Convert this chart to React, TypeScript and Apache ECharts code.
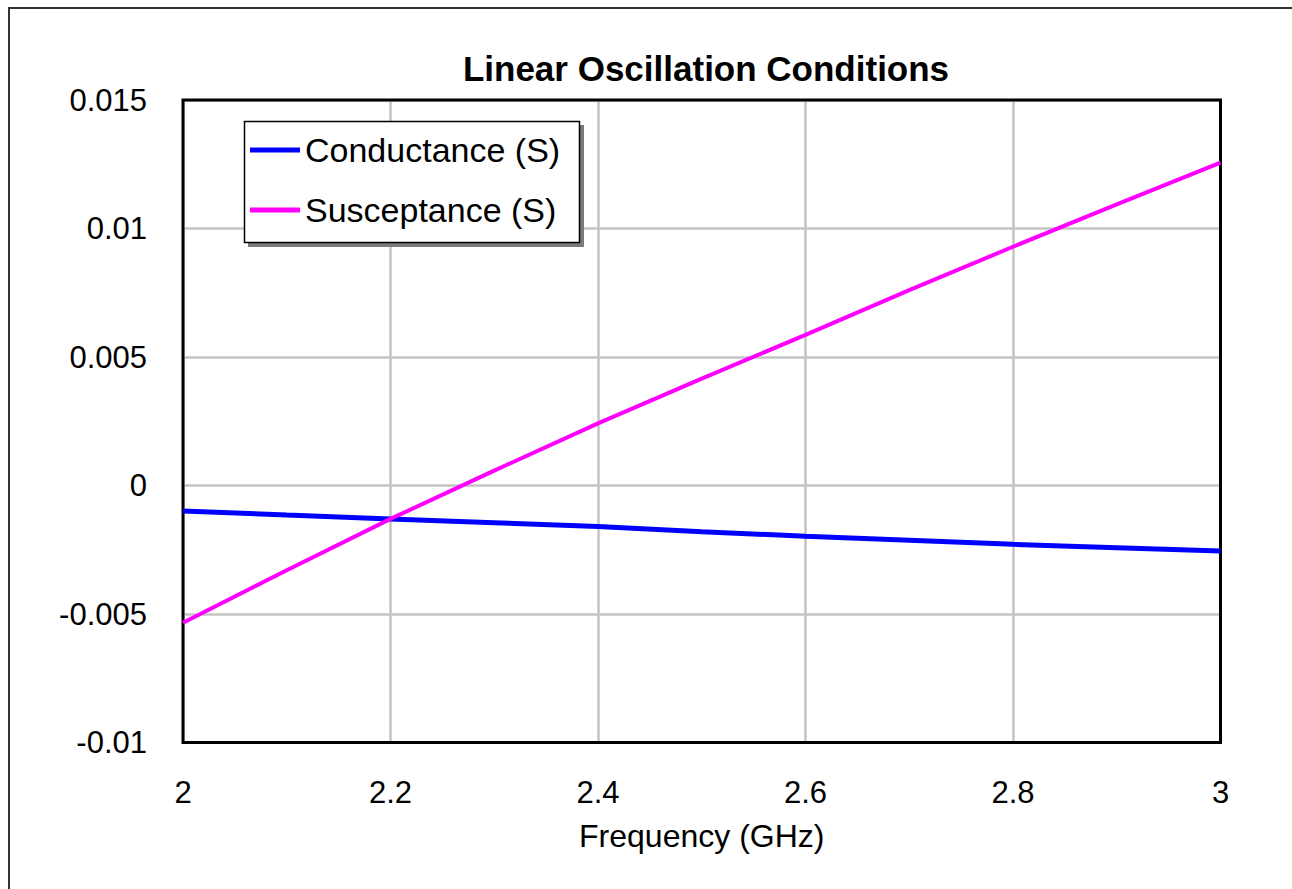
import React, { useEffect, useRef } from "react";
import * as echarts from "echarts";

const frequencies = [2.0, 2.1, 2.2, 2.3, 2.4, 2.5, 2.6, 2.7, 2.8, 2.9, 3.0];
const conductance = [-0.00099, -0.00115, -0.0013, -0.00145, -0.0016, -0.0018, -0.00197, -0.00213, -0.00229, -0.00242, -0.00255];
const susceptance = [-0.00534, -0.0033, -0.0013, 0.00058, 0.00242, 0.00416, 0.00586, 0.0076, 0.00929, 0.01094, 0.01256];
const seriesNames = ["Conductance (S)", "Susceptance (S)"];
const titleText = "Linear Oscillation Conditions";
const xAxisName = "Frequency (GHz)";

const FONT = "'Liberation Sans', Arial, sans-serif";

export default function App() {
  const ref = useRef<HTMLDivElement>(null);
  useEffect(() => {
    if (!ref.current) return;
    const chart = echarts.init(ref.current, undefined, { renderer: "svg" });
    const option = {
      animation: false,
      backgroundColor: "#ffffff",
      title: {
        text: titleText,
        left: 701,
        textAlign: "center",
        top: 46,
        textStyle: { fontFamily: FONT, fontWeight: "bold", fontSize: 35, color: "#000" },
      },
      graphic: [
        {
          type: "rect",
          shape: { x: 9, y: 8, width: 1400, height: 1000 },
          style: { fill: "none", stroke: "#333", lineWidth: 2 },
          silent: true,
        },
        {
          type: "rect",
          shape: { x: 248, y: 125, width: 336, height: 122 },
          style: { fill: "#7a7a7a" },
          z: 10,
          silent: true,
        },
        {
          type: "rect",
          shape: { x: 244.5, y: 121.5, width: 335, height: 121 },
          style: { fill: "#fff", stroke: "#000", lineWidth: 1.5 },
          z: 11,
          silent: true,
        },
      ],
      legend: {
        orient: "vertical",
        left: 250,
        top: 133,
        padding: 0,
        itemWidth: 50,
        itemHeight: 5,
        itemGap: 26,
        icon: "rect",
        z: 20,
        textStyle: { fontFamily: FONT, fontSize: 34, color: "#000", padding: [0, 0, 0, 0] },
        data: seriesNames,
      },
      grid: {
        show: true,
        left: 183,
        top: 100,
        right: 71.5,
        bottom: 146.5,
        borderColor: "#000",
        borderWidth: 3,
        containLabel: false,
        z: 5,
      },
      xAxis: {
        type: "value",
        min: 2,
        max: 3,
        interval: 0.2,
        name: xAxisName,
        nameLocation: "middle",
        nameGap: 77,
        nameTextStyle: { fontFamily: FONT, fontSize: 32, color: "#000" },
        axisLine: { show: false },
        axisTick: { show: false },
        axisLabel: { fontFamily: FONT, fontSize: 31, color: "#000", margin: 34 },
        splitLine: { show: true, lineStyle: { color: "#c4c4c4", width: 2.5 } },
      },
      yAxis: {
        type: "value",
        min: -0.01,
        max: 0.015,
        interval: 0.005,
        axisLine: { show: false },
        axisTick: { show: false },
        axisLabel: { fontFamily: FONT, fontSize: 31, color: "#000", margin: 36 },
        splitLine: { show: true, lineStyle: { color: "#c4c4c4", width: 2.5 } },
      },
      series: [
        {
          name: seriesNames[0],
          type: "line",
          data: frequencies.map((f, i) => [f, conductance[i]]),
          showSymbol: false,
          symbol: "none",
          color: "#0000ff",
          lineStyle: { color: "#0000ff", width: 5 },
          z: 6,
        },
        {
          name: seriesNames[1],
          type: "line",
          data: frequencies.map((f, i) => [f, susceptance[i]]),
          showSymbol: false,
          symbol: "none",
          color: "#ff00ff",
          lineStyle: { color: "#ff00ff", width: 4 },
          z: 7,
        },
      ],
    };
    chart.setOption(option as any);
    return () => chart.dispose();
  }, []);
  return (
    <div
      ref={ref}
      style={{ position: "absolute", left: 0, top: 0, width: 1292, height: 889 }}
    />
  );
}
